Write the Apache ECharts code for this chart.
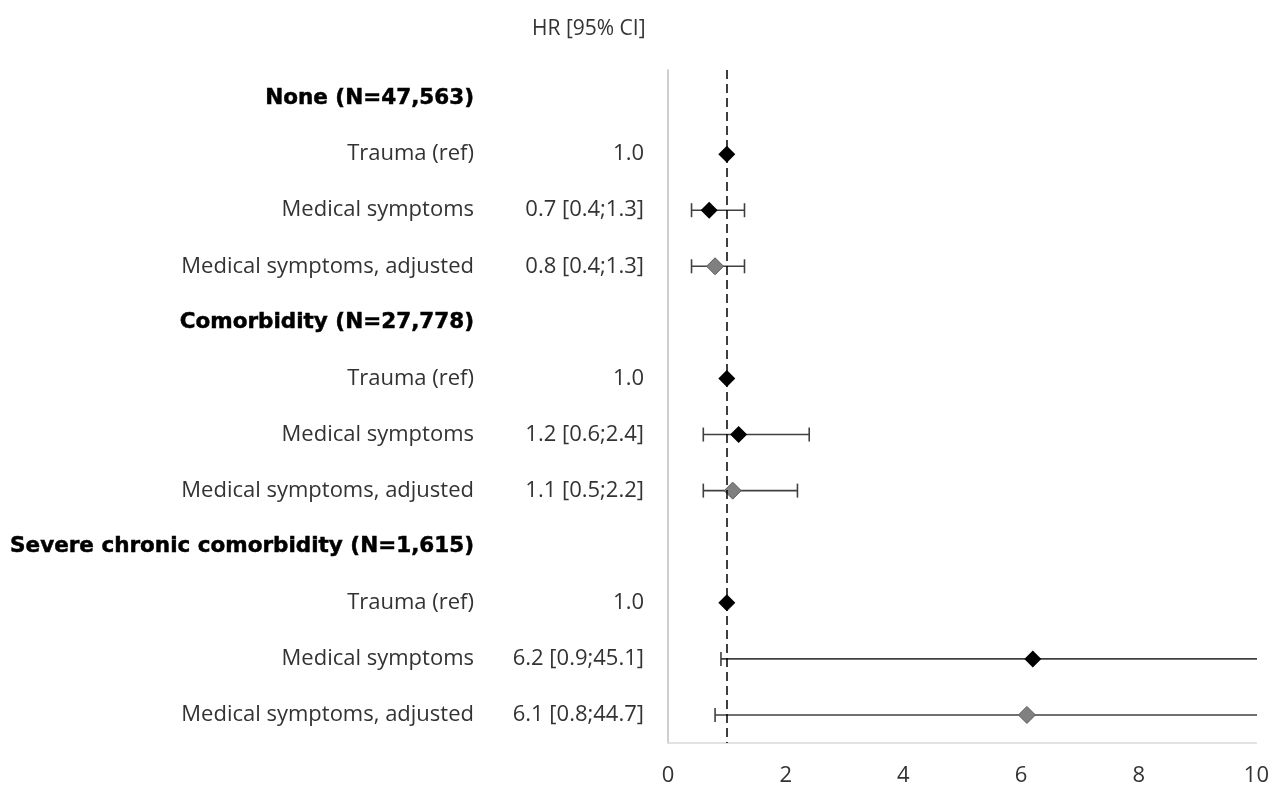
<!DOCTYPE html>
<html><head><meta charset="utf-8">
<script src="https://cdn.jsdelivr.net/npm/echarts@6/dist/echarts.min.js"></script>
<style>html,body{margin:0;padding:0;background:#fff}#c{width:1272px;height:787px}</style>
</head><body><div id="c"></div>
<script>
// ---- data ----
const rowLabels = [
  'None (N=47,563)', 'Trauma (ref)', 'Medical symptoms', 'Medical symptoms, adjusted',
  'Comorbidity (N=27,778)', 'Trauma (ref)', 'Medical symptoms', 'Medical symptoms, adjusted',
  'Severe chronic comorbidity (N=1,615)', 'Trauma (ref)', 'Medical symptoms', 'Medical symptoms, adjusted'
];
const isHeader = [true, false, false, false, true, false, false, false, true, false, false, false];
const hrText = ['', '1.0', '0.7 [0.4;1.3]', '0.8 [0.4;1.3]',
  '', '1.0', '1.2 [0.6;2.4]', '1.1 [0.5;2.2]',
  '', '1.0', '6.2 [0.9;45.1]', '6.1 [0.8;44.7]'];
const hr =    [null, 1.0, 0.7, 0.8, null, 1.0, 1.2, 1.1, null, 1.0, 6.2, 6.1];
const ciLow = [null, null, 0.4, 0.4, null, null, 0.6, 0.6, null, null, 0.9, 0.8];
const ciHigh= [null, null, 1.3, 1.3, null, null, 2.4, 2.2, null, null, 45.1, 44.7];
const isAdjusted = [false, false, false, true, false, false, false, true, false, false, false, true];
const xTicks = [0, 2, 4, 6, 8, 10];
const refLine = 1;

// ---- build ----
const cats = rowLabels.map((_, i) => 'r' + i);
const ciData = [];
const ptBlack = [];
const ptGray = [];
for (let i = 0; i < cats.length; i++) {
  if (ciLow[i] != null) ciData.push([ciLow[i], ciHigh[i], i]);
  if (hr[i] != null) (isAdjusted[i] ? ptGray : ptBlack).push([hr[i], i]);
}

const chart = echarts.init(document.getElementById('c'), null, {renderer: 'canvas'});
chart.setOption({
  animation: false,
  title: {
    text: 'HR [95% CI]', left: 527, top: 14,
    textStyle: {fontFamily: 'Open Sans', fontSize: 21, fontWeight: 'normal', color: '#333'}
  },
  grid: {left: 668, right: 14, top: 70, bottom: 42},
  xAxis: {
    type: 'value', min: xTicks[0], max: xTicks[xTicks.length - 1], interval: 2,
    axisLine: {show: true, lineStyle: {color: '#d9d9d9', width: 1.5}},
    axisTick: {show: false},
    splitLine: {show: false},
    axisLabel: {fontFamily: 'Open Sans', fontSize: 22, color: '#333', margin: 22}
  },
  yAxis: [{
    type: 'category', data: cats, inverse: true, position: 'left',
    axisLine: {show: true, lineStyle: {color: '#bfbfbf', width: 1.5}},
    axisTick: {show: false},
    splitLine: {show: false},
    axisLabel: {
      margin: 194, align: 'right',
      formatter: (v, i) => isHeader[i] ? '{h|' + rowLabels[i] + '}' : '{n|' + rowLabels[i] + '}',
      rich: {
        h: {fontFamily: 'DejaVu Sans', fontWeight: 'bold', fontSize: 21.5, color: '#000',
            textBorderColor: '#000', textBorderWidth: 0.5},
        n: {fontFamily: 'Open Sans', fontSize: 22, color: '#333'}
      }
    }
  }, {
    type: 'category', data: cats, inverse: true, position: 'left',
    axisLine: {show: false}, axisTick: {show: false}, splitLine: {show: false},
    axisLabel: {
      margin: 24, align: 'right',
      formatter: (v, i) => hrText[i],
      fontFamily: 'Open Sans', fontSize: 22, color: '#333'
    }
  }],
  series: [{
    type: 'custom',
    clip: true,
    data: ciData,
    renderItem: function (params, api) {
      const y = api.value(2);
      const p1 = api.coord([api.value(0), y]);
      const p2 = api.coord([api.value(1), y]);
      const h = 7;
      const st = {stroke: '#404040', lineWidth: 1.6};
      return {
        type: 'group',
        children: [
          {type: 'line', shape: {x1: p1[0], y1: p1[1], x2: p2[0], y2: p2[1]}, style: st},
          {type: 'line', shape: {x1: p1[0], y1: p1[1] - h, x2: p1[0], y2: p1[1] + h}, style: st},
          {type: 'line', shape: {x1: p2[0], y1: p2[1] - h, x2: p2[0], y2: p2[1] + h}, style: st}
        ]
      };
    },
    z: 2
  }, {
    type: 'scatter', data: ptBlack, symbol: 'diamond', symbolSize: 17,
    itemStyle: {color: '#000', opacity: 1}, z: 4,
    markLine: {
      silent: true, symbol: 'none', label: {show: false},
      lineStyle: {color: '#000', type: [9, 5], width: 1.5},
      data: [{xAxis: refLine}]
    }
  }, {
    type: 'scatter', data: ptGray, symbol: 'diamond', symbolSize: 17,
    itemStyle: {color: '#808080', borderColor: '#5a5a5a', borderWidth: 1, opacity: 1}, z: 4
  }]
});
</script></body></html>
